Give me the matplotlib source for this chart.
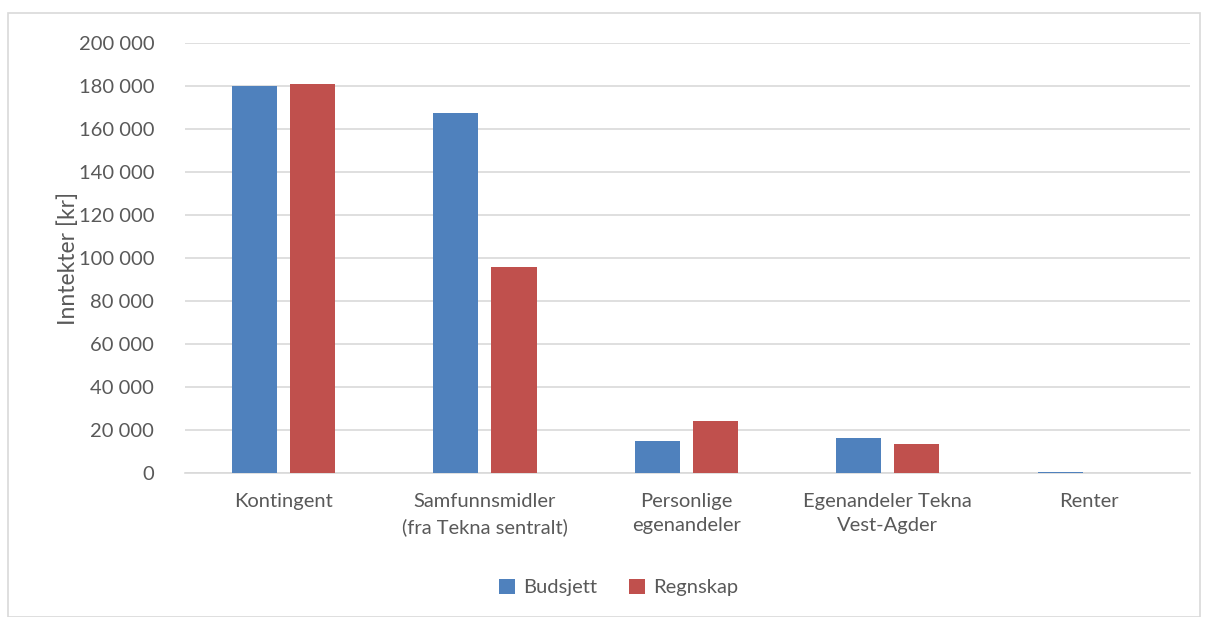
import matplotlib.pyplot as plt
import numpy as np
from matplotlib.patches import Rectangle
from matplotlib.ticker import FuncFormatter

plt.rcParams['font.family'] = ['Lato', 'DejaVu Sans']

categories = ['Kontingent', 'Samfunnsmidler\n(fra Tekna sentralt)', 'Personlige\negenandeler',
              'Egenandeler Tekna\nVest-Agder', 'Renter']
budsjett = [180000, 167500, 15000, 16500, 500]
regnskap = [181000, 96000, 24500, 13500, 100]
yticks = np.arange(0, 200001, 20000)

blue = '#4f81bd'
red = '#c0504d'
txt = '#595959'

fig = plt.figure(figsize=(12.08, 6.17), dpi=100)
ax = fig.add_axes([0.153, 0.233, 0.832, 0.697])

x = np.arange(len(categories))
w = 0.224
off = (w + 0.065) / 2
ax.bar(x - off, budsjett, w, color=blue, label='Budsjett', zorder=3)
ax.bar(x + off, regnskap, w, color=red, label='Regnskap', zorder=3)

ax.set_xlim(-0.49, len(categories) - 0.5)
ax.set_ylim(0, 200000)
ax.set_yticks(yticks)
ax.yaxis.set_major_formatter(FuncFormatter(lambda v, p: f'{int(v):,}'.replace(',', ' ')))
ax.set_xticks(x)
ax.set_xticklabels(categories, fontsize=14.5, color=txt, linespacing=1.55)
ax.tick_params(axis='y', labelsize=14.5, labelcolor=txt, length=0, pad=22)
ax.tick_params(axis='x', length=0, pad=14)
ax.grid(axis='y', color='#d9d9d9', linewidth=1.2, zorder=0)
for s in ['top', 'right', 'left']:
    ax.spines[s].set_visible(False)
ax.spines['bottom'].set_color('#d9d9d9')
ax.spines['bottom'].set_linewidth(1.2)
ax.set_ylabel('Inntekter [kr]', fontsize=16.5, color=txt, labelpad=0)

fig.legend(loc='center', bbox_to_anchor=(0.512, 0.048), ncol=2, frameon=False,
           fontsize=14.5, handlelength=0.8, handleheight=0.8, columnspacing=1.6,
           handletextpad=0.4, labelcolor=txt)

fig.patches.append(Rectangle((8 / 1208, 0), 1 - 16 / 1208, 1 - 13 / 617, transform=fig.transFigure,
                             fill=False, edgecolor='#d9d9d9', linewidth=1.2))

fig.savefig('out.png', dpi=100)
